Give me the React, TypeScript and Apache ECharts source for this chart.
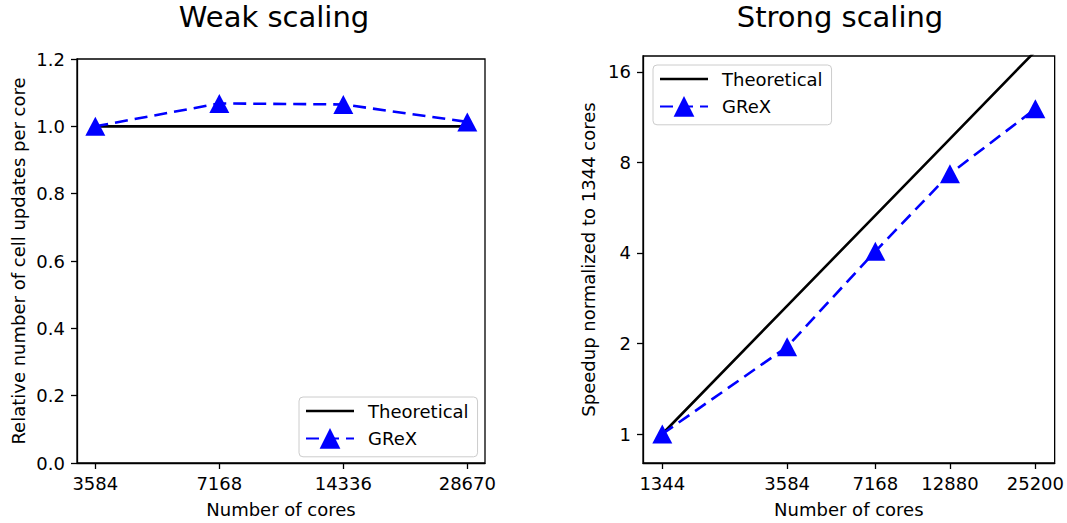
import React, { useEffect, useRef } from "react";
import * as echarts from "echarts";

const weakCores = [3584, 7168, 14336, 28670];
const weakTheoretical = [1, 1, 1, 1];
const weakGrex = [1.0, 1.068, 1.065, 1.013];

const strongCores = [1344, 3584, 7168, 12880, 25200];
const strongTheoretical = [1, 2.667, 5.333, 9.583, 18.75];
const strongGrex = [1.0, 1.95, 4.05, 7.33, 12.05];
const strongYTicks = [1, 2, 4, 8, 16];

const FONT = "DejaVu Sans";
const BLUE = "#0000ff";

export default function App() {
  const ref = useRef<HTMLDivElement>(null);
  useEffect(() => {
    const chart = echarts.init(ref.current!, null, { renderer: "svg" });
    const axisCommon = {
      axisLine: { show: true, lineStyle: { color: "#000", width: 1.3 } },
      axisTick: { show: true, inside: false, length: 6, lineStyle: { color: "#000", width: 1.3 } },
      splitLine: { show: false },
      nameTextStyle: { fontFamily: FONT, fontSize: 18, color: "#000" },
    };
    const labelStyle = { fontFamily: FONT, fontSize: 18, color: "#000" };
    const pair = (xs: number[], ys: number[]) => xs.map((x, i) => [x, ys[i]]);
    const legendCommon = {
      orient: "vertical" as const,
      itemWidth: 48,
      itemHeight: 26,
      itemGap: 8,
      borderColor: "#cccccc",
      borderWidth: 1,
      borderRadius: 4,
      backgroundColor: "#ffffff",
      padding: [5, 9, 8, 6],
      textStyle: { fontFamily: FONT, fontSize: 18, color: "#000", padding: [0, 0, 0, 9] },
      data: [
        { name: "Theoretical", icon: "path://M0,0L48,0L48,2.6L0,2.6Z", itemStyle: { color: "#000" } },
        { name: "GReX" },
      ],
    };
    chart.setOption({
      animation: false,
      textStyle: { fontFamily: FONT },
      title: [
        { text: "Weak scaling", left: 274, top: 2, textAlign: "center", padding: 0,
          textStyle: { fontFamily: FONT, fontSize: 29, fontWeight: "normal", color: "#000" } },
        { text: "Strong scaling", left: 840, top: 2, textAlign: "center", padding: 0,
          textStyle: { fontFamily: FONT, fontSize: 29, fontWeight: "normal", color: "#000" } },
      ],
      grid: [
        { left: 77, top: 59, width: 408, height: 405, show: true, borderColor: "#000", borderWidth: 1.3, backgroundColor: "transparent" },
        { left: 643, top: 56, width: 412, height: 408, show: true, borderColor: "#000", borderWidth: 1.3, backgroundColor: "transparent" },
      ],
      xAxis: [
        {
          ...axisCommon,
          gridIndex: 0,
          type: "log",
          logBase: 2,
          min: 3235,
          max: 31650,
          name: "Number of cores",
          nameLocation: "middle",
          nameGap: 37,
          axisTick: { ...axisCommon.axisTick, customValues: weakCores },
          axisLabel: { ...labelStyle, margin: 11, customValues: weakCores, formatter: (v: number) => String(Math.round(v)) },
        },
        {
          ...axisCommon,
          gridIndex: 1,
          type: "log",
          logBase: 10,
          min: 1155,
          max: 29323,
          name: "Number of cores",
          nameLocation: "middle",
          nameGap: 37,
          axisTick: { ...axisCommon.axisTick, customValues: strongCores },
          axisLabel: { ...labelStyle, margin: 11, customValues: strongCores, formatter: (v: number) => String(Math.round(v)) },
        },
      ],
      yAxis: [
        {
          ...axisCommon,
          gridIndex: 0,
          type: "value",
          min: 0,
          max: 1.2,
          interval: 0.2,
          name: "Relative number of cell updates per core",
          nameLocation: "middle",
          nameGap: 50,
          axisLabel: { ...labelStyle, margin: 12, formatter: (v: number) => v.toFixed(1) },
        },
        {
          ...axisCommon,
          gridIndex: 1,
          type: "log",
          logBase: 2,
          min: 0.801,
          max: 18.06,
          name: "Speedup normalized to 1344 cores",
          nameLocation: "middle",
          nameGap: 46,
          axisTick: { ...axisCommon.axisTick, customValues: strongYTicks },
          axisLabel: { ...labelStyle, margin: 12, customValues: strongYTicks, formatter: (v: number) => String(Math.round(v)) },
        },
      ],
      legend: [
        { ...legendCommon, left: 299, top: 397 },
        { ...legendCommon, left: 653, top: 65 },
      ],
      series: [
        {
          name: "Theoretical", type: "line", xAxisIndex: 0, yAxisIndex: 0,
          data: pair(weakCores, weakTheoretical), symbol: "none",
          lineStyle: { color: "#000", width: 2.6 }, itemStyle: { color: "#000" }, z: 2,
        },
        {
          name: "GReX", type: "line", xAxisIndex: 0, yAxisIndex: 0,
          data: pair(weakCores, weakGrex), symbol: "triangle", symbolSize: [20, 19],
          lineStyle: { color: BLUE, width: 2.6, type: [13, 7] }, itemStyle: { color: BLUE }, z: 3,
        },
        {
          name: "Theoretical", type: "line", xAxisIndex: 1, yAxisIndex: 1,
          data: pair(strongCores, strongTheoretical), symbol: "none", clip: true,
          lineStyle: { color: "#000", width: 2.6 }, itemStyle: { color: "#000" }, z: 2,
        },
        {
          name: "GReX", type: "line", xAxisIndex: 1, yAxisIndex: 1,
          data: pair(strongCores, strongGrex), symbol: "triangle", symbolSize: [20, 19],
          lineStyle: { color: BLUE, width: 2.6, type: [13, 7] }, itemStyle: { color: BLUE }, z: 3,
        },
      ],
    });
    return () => chart.dispose();
  }, []);
  return (
    <div
      ref={ref}
      style={{ position: "fixed", left: 0, top: 0, width: 1067, height: 523, background: "#fff" }}
    />
  );
}
